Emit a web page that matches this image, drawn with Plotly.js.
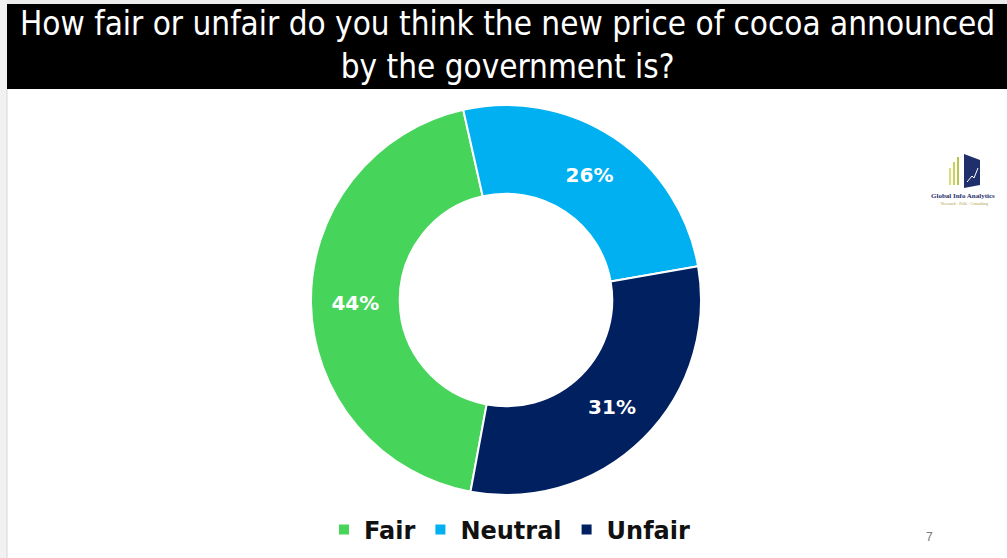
<!DOCTYPE html>
<html>
<head>
<meta charset="utf-8">
<script src="https://cdn.plot.ly/plotly-3.0.1.min.js"></script>
<style>html,body{margin:0;padding:0;background:#fff;}#chart{width:1007px;height:558px;}</style>
</head>
<body>
<div id="chart"></div>
<script>
const categories = ["Fair", "Neutral", "Unfair"];
const shares = [44, 26, 31];
const sliceColors = ["#47D45A", "#00B0F0", "#002060"];
const titleLines = ["How fair or unfair do you think the new price of cocoa announced", "by the government is?"];
const pageNumber = "7";

const W = 1007, H = 558;
const px = x => x / W;
const py = y => 1 - y / H;

const trace = {
  type: "pie",
  labels: categories,
  values: shares,
  hole: 0.545,
  sort: false,
  direction: "clockwise",
  rotation: 190.5,
  marker: { colors: sliceColors, line: { color: "#ffffff", width: 2 } },
  texttemplate: "%{value}%",
  textposition: "inside",
  insidetextorientation: "horizontal",
  textfont: { family: "DejaVu Sans", size: 20, color: "#ffffff", weight: "bold" },
  hoverinfo: "label+value",
  domain: { x: [px(311), px(701)], y: [py(495), py(105)] }
};

const layout = {
  width: W, height: H,
  margin: { l: 0, r: 0, t: 0, b: 0 },
  paper_bgcolor: "#ffffff",
  showlegend: true,
  legend: {
    orientation: "h",
    x: px(510), xanchor: "center",
    y: py(530), yanchor: "middle",
    font: { family: "DejaVu Sans", size: 24, color: "#111111", weight: "bold" },
    itemclick: false, itemdoubleclick: false,
    traceorder: "normal"
  },
  shapes: [
    { type: "rect", xref: "paper", yref: "paper", x0: 0, x1: 1, y0: py(4), y1: 1, fillcolor: "#ececec", line: { width: 0 }, layer: "below" },
    { type: "rect", xref: "paper", yref: "paper", x0: 0, x1: px(7), y0: 0, y1: 1, fillcolor: "#f1f1f1", line: { width: 0 }, layer: "below" },
    { type: "line", xref: "paper", yref: "paper", x0: px(7), x1: px(7), y0: 0, y1: py(89), line: { color: "#d6d6d6", width: 1 } },
    { type: "rect", xref: "paper", yref: "paper", x0: px(7), x1: 1, y0: py(89), y1: py(4), fillcolor: "#000000", line: { width: 0 } },
    { type: "rect", xref: "paper", yref: "paper", x0: px(949), x1: px(951), y0: py(185), y1: py(168), fillcolor: "#d9e07a", line: { width: 0 } },
    { type: "rect", xref: "paper", yref: "paper", x0: px(953), x1: px(955), y0: py(185), y1: py(162), fillcolor: "#c9d35a", line: { width: 0 } },
    { type: "rect", xref: "paper", yref: "paper", x0: px(957), x1: px(959), y0: py(185), y1: py(157), fillcolor: "#b9c64a", line: { width: 0 } },
    { type: "path", xref: "paper", yref: "paper", path: `M ${px(964)},${py(154)} L ${px(980)},${py(160)} L ${px(980)},${py(185)} L ${px(964)},${py(188)} Z`, fillcolor: "#1f2f6b", line: { width: 0 } },
    { type: "path", xref: "paper", yref: "paper", path: `M ${px(967)},${py(182)} L ${px(972)},${py(176)} L ${px(974)},${py(178)} L ${px(978)},${py(168)}`, line: { color: "#ffffff", width: 1 } }
  ],
  annotations: [
    { text: titleLines.join("<br>"), xref: "paper", yref: "paper", x: px(507), y: py(45), xanchor: "center", yanchor: "middle", showarrow: false,
      font: { family: "Liberation Sans Narrow, DejaVu Sans Condensed, Arial Narrow, sans-serif", size: 33, color: "#ffffff" } },
    { text: "Global Info Analytics", xref: "paper", yref: "paper", x: px(963), y: py(196), xanchor: "center", yanchor: "middle", showarrow: false,
      font: { family: "Liberation Serif", size: 7, color: "#1f2f6b", weight: "bold" } },
    { text: "~Research · Polls · Consulting", xref: "paper", yref: "paper", x: px(963), y: py(203), xanchor: "center", yanchor: "middle", showarrow: false,
      font: { family: "Liberation Serif", size: 4, color: "#b0a040" } },
    { text: pageNumber, xref: "paper", yref: "paper", x: px(929), y: py(537), xanchor: "center", yanchor: "middle", showarrow: false,
      font: { family: "Liberation Sans", size: 12, color: "#777777" } }
  ]
};

Plotly.newPlot("chart", [trace], layout, { displayModeBar: false, staticPlot: true });
</script>
</body>
</html>
